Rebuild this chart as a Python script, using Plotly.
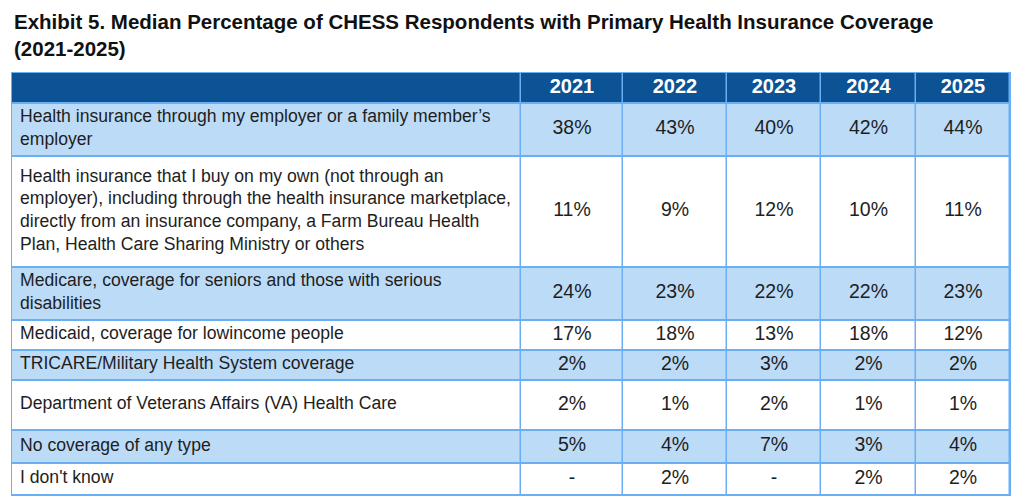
import plotly.graph_objects as go
import numpy as np

# ---------------- data ----------------
title = ("Exhibit 5. Median Percentage of CHESS Respondents with Primary Health Insurance Coverage"
         "<br>(2021-2025)")
years = ["2021", "2022", "2023", "2024", "2025"]
categories = [
    "Health insurance through my employer or a family member\u2019s<br>employer",
    "Health insurance that I buy on my own (not through an<br>employer), including through the health insurance marketplace,<br>directly from an insurance company, a Farm Bureau Health<br>Plan, Health Care Sharing Ministry or others",
    "Medicare, coverage for seniors and those with serious<br>disabilities",
    "Medicaid, coverage for lowincome people",
    "TRICARE/Military Health System coverage",
    "Department of Veterans Affairs (VA) Health Care",
    "No coverage of any type",
    "I don't know",
]
v2021 = ["38%", "11%", "24%", "17%", "2%", "2%", "5%", "-"]
v2022 = ["43%", "9%", "23%", "18%", "2%", "1%", "4%", "2%"]
v2023 = ["40%", "12%", "22%", "13%", "3%", "2%", "7%", "-"]
v2024 = ["42%", "10%", "22%", "18%", "2%", "1%", "3%", "2%"]
v2025 = ["44%", "11%", "23%", "12%", "2%", "1%", "4%", "2%"]
year_values = [v2021, v2022, v2023, v2024, v2025]

# ---------------- layout / style ----------------
PAGE_MARGIN = 8                     # default body margin of the html page
W, H = 1024 - 2 * PAGE_MARGIN, 504 - 2 * PAGE_MARGIN
table_left, table_top = 12, 72      # in page pixels
col_widths = [509, 102, 104, 94, 95, 94]
header_height = 31
row_heights = [53, 111, 53, 30, 30, 50, 33, 32]

HEADER_BG = "#0B5394"
LIGHT_BG = "#BCDBF7"
WHITE_BG = "#FFFFFF"
BORDER = "#6AAEF3"
TEXT = "#1E1E1E"
FONT = "Liberation Sans"

col_edges = table_left + np.concatenate([[0], np.cumsum(col_widths)])
row_edges = table_top + np.concatenate([[0], np.cumsum([header_height] + row_heights)])
col_centers = (col_edges[:-1] + col_edges[1:]) / 2
row_centers = (row_edges[:-1] + row_edges[1:]) / 2

# fill code: 2 = header, 1 = light blue, 0 = white
fill = [[2] * len(col_widths)]
for i in range(len(categories)):
    fill.append([1 if i % 2 == 0 else 0] * len(col_widths))

fig = go.Figure()

# border background (shows through the cell gaps)
fig.add_shape(type="rect", xref="x", yref="y",
              x0=col_edges[0] - 1, x1=col_edges[-1] + 1,
              y0=row_edges[0], y1=row_edges[-1] + 1,
              fillcolor=BORDER, line_width=0, layer="below")

fig.add_trace(go.Heatmap(
    x=col_edges, y=row_edges, z=fill,
    colorscale=[[0, WHITE_BG], [0.5, LIGHT_BG], [1, HEADER_BG]],
    zmin=0, zmax=2, showscale=False, xgap=1.5, ygap=2, hoverinfo="skip",
))

# header years
fig.add_trace(go.Scatter(
    x=col_centers[1:], y=[row_centers[0]] * len(years), text=years,
    mode="text", textposition="middle center",
    textfont=dict(family=FONT, size=20, color="white", weight="bold"),
    hoverinfo="skip", showlegend=False,
))

# category labels
fig.add_trace(go.Scatter(
    x=[col_edges[0] + 8] * len(categories), y=row_centers[1:], text=categories,
    mode="text", textposition="middle right",
    textfont=dict(family=FONT, size=17.6, color=TEXT),
    hoverinfo="skip", showlegend=False,
))

# year values
for j, vals in enumerate(year_values):
    fig.add_trace(go.Scatter(
        x=[col_centers[j + 1]] * len(vals), y=row_centers[1:], text=vals,
        mode="text", textposition="middle center",
        textfont=dict(family=FONT, size=19.5, color=TEXT),
        hoverinfo="skip", showlegend=False,
    ))

fig.add_annotation(
    text=title, xref="x", yref="y", x=table_left, y=8,
    xanchor="left", yanchor="top", align="left", showarrow=False,
    font=dict(family=FONT, size=20.5, color="#111111", weight="bold"),
)

fig.update_layout(
    width=W, height=H, margin=dict(l=0, r=0, t=0, b=0),
    paper_bgcolor="white", plot_bgcolor="white",
    xaxis=dict(range=[PAGE_MARGIN, PAGE_MARGIN + W], visible=False, fixedrange=True),
    yaxis=dict(range=[PAGE_MARGIN + H, PAGE_MARGIN], visible=False, fixedrange=True),
    showlegend=False,
)

fig.write_html("out.html")
